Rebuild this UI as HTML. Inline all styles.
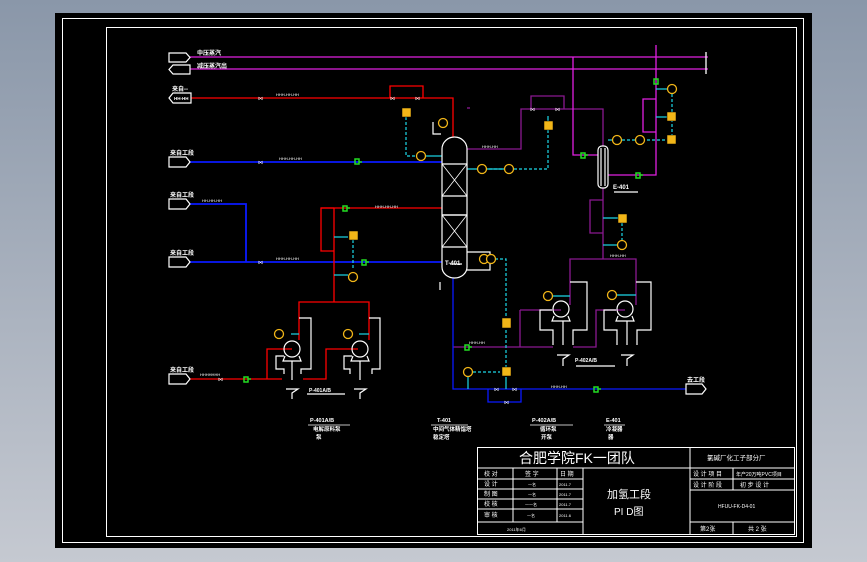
<!DOCTYPE html>
<html><head><meta charset="utf-8"><style>
html,body{margin:0;padding:0;}
body{width:867px;height:562px;overflow:hidden;background:linear-gradient(#8a97a9,#c5c9d1);}
svg{position:absolute;left:0;top:0;}
text{font-family:"Liberation Sans","Noto Sans CJK SC",sans-serif;fill:#fff;}
</style></head><body>
<svg width="867" height="562" viewBox="0 0 867 562" xmlns="http://www.w3.org/2000/svg">
<rect x="55" y="13" width="757" height="535" fill="#000"/>
<rect x="62.5" y="18.5" width="741" height="524" fill="none" stroke="#fff" stroke-width="1"/>
<rect x="106.5" y="27.5" width="690" height="509" fill="none" stroke="#fff" stroke-width="1"/>

<g fill="none" stroke-width="1.3">
<!-- steam -->
<line x1="190" y1="57" x2="708" y2="57" stroke="#e020e0"/>
<line x1="190" y1="69" x2="708" y2="69" stroke="#e020e0"/>
<line x1="706" y1="52" x2="706" y2="74" stroke="#fff"/>
<!-- red top -->
<polyline points="191,98 453,98 453,137" stroke="#f00"/>
<polyline points="390,98 390,86 423,86 423,98" stroke="#f00"/>
<!-- blue lines -->
<line x1="190" y1="162" x2="442" y2="162" stroke="#0a1aff" stroke-width="1.8"/>
<polyline points="190,204 246,204 246,262" stroke="#0a1aff" stroke-width="1.8"/>
<line x1="190" y1="262" x2="442" y2="262" stroke="#0a1aff" stroke-width="1.8"/>
<!-- red reflux -->
<line x1="321" y1="208" x2="442" y2="208" stroke="#f00"/>
<polyline points="334,208 321,208 321,251 334,251" stroke="#f00"/>
<line x1="334" y1="208" x2="334" y2="302" stroke="#f00"/>
<polyline points="299,322 299,302 369,302 369,322" stroke="#f00"/>
<line x1="299" y1="322" x2="299" y2="340" stroke="#f00"/>
<line x1="369" y1="322" x2="369" y2="340" stroke="#f00"/>
<polyline points="190,379 282,379" stroke="#f00"/>
<polyline points="267,379 267,349 292,349" stroke="#f00"/>
<polyline points="303,379 326,379 326,349 358,349" stroke="#f00"/>
<!-- purple overhead -->
<polyline points="467,149 521,149 521,109 603,109 603,146" stroke="#8a1890"/>
<polyline points="531,109 531,96 564,96 564,109" stroke="#8a1890"/>
<!-- magenta -->
<polyline points="573,57 573,155 598,155" stroke="#e020e0"/>
<polyline points="656,45 656,175 608,175" stroke="#e020e0"/>
<polyline points="656,99 643,99 643,132 656,132" stroke="#e020e0"/>
<!-- purple bottom of exchanger -->
<line x1="603" y1="188" x2="603" y2="259" stroke="#8a1890"/>
<polyline points="603,200 590,200 590,233 603,233" stroke="#8a1890"/>
<polyline points="570,305 570,259 636,259 636,305" stroke="#8a1890"/>
<polyline points="520,310 561,310" stroke="#8a1890"/>
<polyline points="520,310 520,347" stroke="#8a1890"/>
<line x1="453" y1="347" x2="553" y2="347" stroke="#8a1890"/>
<polyline points="573,347 596,347 596,310 625,310" stroke="#8a1890"/>
<!-- blue bottom -->
<polyline points="453,278 453,389 686,389" stroke="#0a1aff" stroke-width="1.3"/>
<polyline points="488,389 488,402 521,402 521,389" stroke="#0a1aff" stroke-width="1.3"/>
<!-- purple side -->
<line x1="467" y1="108" x2="470" y2="108" stroke="#8a1890"/>
</g>

<!-- cyan instrument lines -->
<g fill="none" stroke="#1cd8e8" stroke-width="1.2">
<polyline points="406,117 406,156 416,156" stroke-dasharray="3,2"/>
<line x1="426" y1="156" x2="442" y2="156"/>
<polyline points="467,169 505,169" />
<polyline points="484,169 548,169 548,130" stroke-dasharray="3,2"/>
<line x1="548" y1="130" x2="548" y2="116"/>
<polyline points="608,140 617,140"/>
<polyline points="622,140 672,140" stroke-dasharray="3,2"/>
<polyline points="672,94 672,135" stroke-dasharray="3,2"/>
<line x1="656" y1="89" x2="667" y2="89"/>
<line x1="656" y1="117" x2="667" y2="117"/>
<polyline points="603,218 622,218"/>
<polyline points="622,223 622,240" stroke-dasharray="3,2"/>
<line x1="603" y1="245" x2="617" y2="245"/>
<polyline points="353,235 353,270" stroke-dasharray="3,2"/>
<line x1="334" y1="237" x2="348" y2="237"/>
<line x1="334" y1="275" x2="348" y2="275"/>
<polyline points="495,259 506,259 506,322" stroke-dasharray="3,2"/>
<polyline points="506,330 506,372" stroke-dasharray="3,2"/>
<polyline points="473,372 500,372" stroke-dasharray="3,2"/>
<line x1="468" y1="377" x2="468" y2="389"/>
<line x1="506" y1="377" x2="506" y2="389"/>
<line x1="291" y1="334" x2="299" y2="334"/>
<line x1="359" y1="334" x2="369" y2="334"/>
<line x1="552" y1="296" x2="570" y2="296"/>
<line x1="617" y1="295" x2="636" y2="295"/>
</g>

<!-- column -->
<g fill="none" stroke="#fff" stroke-width="1.2">
<path d="M442,149 A12.5,12 0 0 1 467,149 L467,267 A12.5,11 0 0 1 442,267 Z"/>
<line x1="442" y1="164" x2="467" y2="164"/><line x1="442" y1="196" x2="467" y2="196"/>
<line x1="442" y1="215" x2="467" y2="215"/><line x1="442" y1="247" x2="467" y2="247"/>
<line x1="442" y1="164" x2="467" y2="196" stroke-width="0.8"/><line x1="467" y1="164" x2="442" y2="196" stroke-width="0.8"/>
<line x1="442" y1="215" x2="467" y2="215" /><line x1="442" y1="215" x2="467" y2="247" stroke-width="0.8"/><line x1="467" y1="215" x2="442" y2="247" stroke-width="0.8"/>
<polyline points="467,252 490,252 490,270 467,270"/>
<line x1="450" y1="264" x2="462" y2="264"/>
<!-- exchanger -->
<rect x="598" y="146" width="10" height="42" rx="4"/>
<line x1="601" y1="148" x2="601" y2="186"/><line x1="605" y1="148" x2="605" y2="186"/>
<line x1="614" y1="192" x2="638" y2="192"/>
<!-- left pumps -->
<circle cx="292" cy="349" r="8"/><circle cx="360" cy="349" r="8"/>
<path d="M285,356 L283,361 L301,361 L299,356"/><path d="M353,356 L351,361 L369,361 L367,356"/>
<polyline points="299,318 311,318 311,369 301,369 301,374"/>
<polyline points="284,356 276,356 276,369 284,369 284,374"/>
<line x1="292" y1="361" x2="292" y2="380"/>
<polyline points="369,318 380,318 380,369 372,369 372,374"/>
<polyline points="352,356 344,356 344,369 350,369 350,374"/>
<line x1="360" y1="361" x2="360" y2="380"/>
<polyline points="286,389 298,389 292,393 292,399"/><polyline points="354,389 366,389 360,393 360,399"/>
<line x1="307" y1="394" x2="345" y2="394"/>
<!-- right pumps -->
<circle cx="561" cy="309" r="8"/><circle cx="625" cy="309" r="8"/>
<path d="M554,316 L552,321 L570,321 L568,316"/><path d="M618,316 L616,321 L634,321 L632,316"/>
<polyline points="570,282 587,282 587,330 573,330 573,345"/>
<polyline points="552,310 540,310 540,330 553,330 553,345"/>
<line x1="563" y1="321" x2="563" y2="345"/>
<polyline points="636,282 651,282 651,330 637,330 637,345"/>
<polyline points="616,310 604,310 604,330 617,330 617,345"/>
<line x1="627" y1="321" x2="627" y2="345"/>
<polyline points="557,355 569,355 563,359 563,366"/><polyline points="621,355 633,355 627,359 627,366"/>
<line x1="576" y1="366" x2="615" y2="366"/>
<!-- boxes -->
<path d="M169,53 H186 L190,57.5 L186,62 H169 Z"/>
<path d="M173,65 H190 V74 H173 L169,69.5 Z"/>
<path d="M173,93 H191 V103 H173 L169,98 Z"/>
<path d="M169,157 H186 L190,162 L186,167 H169 Z"/>
<path d="M169,199 H186 L190,204 L186,209 H169 Z"/>
<path d="M169,257 H186 L190,262 L186,267 H169 Z"/>
<path d="M169,374 H186 L190,379 L186,384 H169 Z"/>
<path d="M686,384 H702 L706,389 L702,394 H686 Z"/>
<!-- small valve/inst stubs -->
<polyline points="433,127 433,134 441,134"/>
<line x1="433" y1="127" x2="433" y2="122"/>
<line x1="440" y1="282" x2="440" y2="290"/>
</g>

<!-- instruments -->
<g fill="#f2b618" stroke="#000" stroke-width="0.5">
<rect x="402" y="108" width="9" height="9"/>
<rect x="544" y="121" width="9" height="9"/>
<rect x="667" y="135" width="9" height="9"/>
<rect x="667" y="112" width="9" height="9"/>
<rect x="618" y="214" width="9" height="9"/>
<rect x="349" y="231" width="9" height="9"/>
<rect x="502" y="318" width="9" height="10"/>
<rect x="502" y="367" width="9" height="9"/>
</g>
<g fill="#000" stroke="#f2b618" stroke-width="1.3">
<circle cx="421" cy="156" r="4.5"/><circle cx="443" cy="123" r="4.5"/>
<circle cx="482" cy="169" r="4.5"/><circle cx="509" cy="169" r="4.5"/>
<circle cx="617" cy="140" r="4.5"/><circle cx="640" cy="140" r="4.5"/>
<circle cx="672" cy="89" r="4.5"/><circle cx="622" cy="245" r="4.5"/>
<circle cx="484" cy="259" r="4.5"/><circle cx="491" cy="259" r="4.5"/>
<circle cx="353" cy="277" r="4.5"/><circle cx="468" cy="372" r="4.5"/>
<circle cx="279" cy="334" r="4.5"/><circle cx="348" cy="334" r="4.5"/>
<circle cx="548" cy="296" r="4.5"/><circle cx="612" cy="295" r="4.5"/>
</g>
<!-- green markers -->
<g fill="none" stroke="#22dd22" stroke-width="1.5">
<path d="M355,159 h4 v5 h-4 z M359,162 h3"/>
<path d="M343,206 h4 v5 h-4 z M347,208 h3"/>
<path d="M362,260 h4 v5 h-4 z M366,262 h3"/>
<path d="M244,377 h4 v5 h-4 z M248,379 h3"/>
<path d="M465,345 h4 v5 h-4 z M469,347 h3"/>
<path d="M594,387 h4 v5 h-4 z M598,389 h3"/>
<path d="M581,153 h4 v5 h-4 z M585,155 h3"/>
<path d="M636,173 h4 v5 h-4 z M640,175 h3"/>
<path d="M654,79 h4 v5 h-4 z"/>
</g>
<!-- valves -->
<g fill="#fff" font-size="5">
<text x="258" y="100">⋈</text><text x="258" y="164">⋈</text><text x="258" y="264">⋈</text><text x="218" y="381">⋈</text>
<text x="390" y="100">⋈</text><text x="415" y="100">⋈</text><text x="530" y="111">⋈</text><text x="555" y="111">⋈</text>
<text x="494" y="391">⋈</text><text x="512" y="391">⋈</text><text x="504" y="404">⋈</text>
</g>
<!-- small labels -->
<g font-size="6" font-weight="bold">
<text x="197" y="55">中压蒸汽</text><text x="197" y="68">减压蒸汽出</text>
<text x="172" y="91">来自--</text><text x="174" y="100" font-size="4.5">HH-HH</text>
<text x="170" y="155">来自工段</text><text x="170" y="197">来自工段</text>
<text x="170" y="255">来自工段</text><text x="170" y="372">来自工段</text>
<text x="687" y="382">去工段</text>
<text x="613" y="189">E-401</text>
<text x="445" y="265">T-401</text>
<text x="575" y="362" font-size="5">P-402A/B</text>
<text x="309" y="392" font-size="5">P-401A/B</text>
</g>
<g font-size="4" fill="#fff">
<text x="276" y="96">HHH-HH-HH</text><text x="279" y="160">HHH-HH-HH</text>
<text x="202" y="202">HH-HH-HH</text><text x="276" y="260">HHH-HH-HH</text>
<text x="375" y="208">HHH-HH-HH</text><text x="482" y="148">HHH-HH</text>
<text x="610" y="257">HHH-HH</text><text x="469" y="344">HHH-HH</text>
<text x="551" y="388">HHH-HH</text><text x="200" y="376">HHHHHHH</text>
</g>
<!-- equipment labels -->
<g font-size="5.5" font-weight="bold">
<text x="310" y="422">P-401A/B</text><text x="313" y="431">电解原料泵</text><text x="316" y="439">泵</text>
<text x="437" y="422">T-401</text><text x="433" y="431">中间气体精馏塔</text><text x="433" y="439">稳定塔</text>
<text x="532" y="422">P-402A/B</text><text x="540" y="431">循环泵</text><text x="541" y="439">开泵</text>
<text x="606" y="422">E-401</text><text x="606" y="431">冷凝器</text><text x="608" y="439">器</text>
</g>
<g stroke="#fff" stroke-width="0.8">
<line x1="308" y1="425" x2="350" y2="425"/><line x1="431" y1="425" x2="468" y2="425"/>
<line x1="530" y1="425" x2="573" y2="425"/><line x1="604" y1="425" x2="625" y2="425"/>
</g>

<!-- title block -->
<g fill="none" stroke="#fff" stroke-width="1">
<rect x="477.5" y="447.5" width="317" height="87"/>
<line x1="477" y1="468" x2="795" y2="468"/>
<line x1="690" y1="447" x2="690" y2="535"/>
<line x1="477" y1="479" x2="583" y2="479"/><line x1="477" y1="489" x2="583" y2="489"/>
<line x1="477" y1="499" x2="583" y2="499"/><line x1="477" y1="509" x2="583" y2="509"/>
<line x1="477" y1="522" x2="583" y2="522"/>
<line x1="513" y1="468" x2="513" y2="522"/><line x1="557" y1="468" x2="557" y2="522"/>
<line x1="583" y1="468" x2="583" y2="535"/>
<line x1="690" y1="479" x2="795" y2="479"/><line x1="690" y1="490" x2="795" y2="490"/>
<line x1="690" y1="522" x2="795" y2="522"/>
<line x1="733" y1="468" x2="733" y2="490"/><line x1="733" y1="522" x2="733" y2="535"/>
</g>
<text x="519" y="463" font-size="14">合肥学院FK一团队</text>
<text x="707" y="460" font-size="6.5">氯碱厂化工子部分厂</text>
<g font-size="6">
<text x="484" y="476">校 对</text><text x="525" y="476">签 字</text><text x="560" y="476">日 期</text>
<text x="484" y="486">设 计</text><text x="484" y="496">制 图</text><text x="484" y="506">校 核</text><text x="484" y="517">审 核</text>
<text x="693" y="476">设 计 项 目</text><text x="736" y="476" font-size="5">年产20万吨PVC项目</text>
<text x="693" y="487">设 计 阶 段</text><text x="740" y="487">初 步 设 计</text>
<text x="718" y="508" font-size="5">HFUU-FK-D4-01</text>
<text x="700" y="531">第2张</text><text x="748" y="531">共 2 张</text>
</g>
<g font-size="4">
<text x="528" y="486">一名</text><text x="528" y="496">一名</text><text x="525" y="506">一一名</text><text x="527" y="517">一名</text>
<text x="559" y="486">2011.7</text><text x="559" y="496">2011.7</text><text x="559" y="506">2011.7</text><text x="559" y="517">2011.6</text>
<text x="507" y="531">2011年6月</text>
</g>
<text x="607" y="498" font-size="11">加氢工段</text>
<text x="614" y="515" font-size="10">PI D图</text>
</svg>
</body></html>
